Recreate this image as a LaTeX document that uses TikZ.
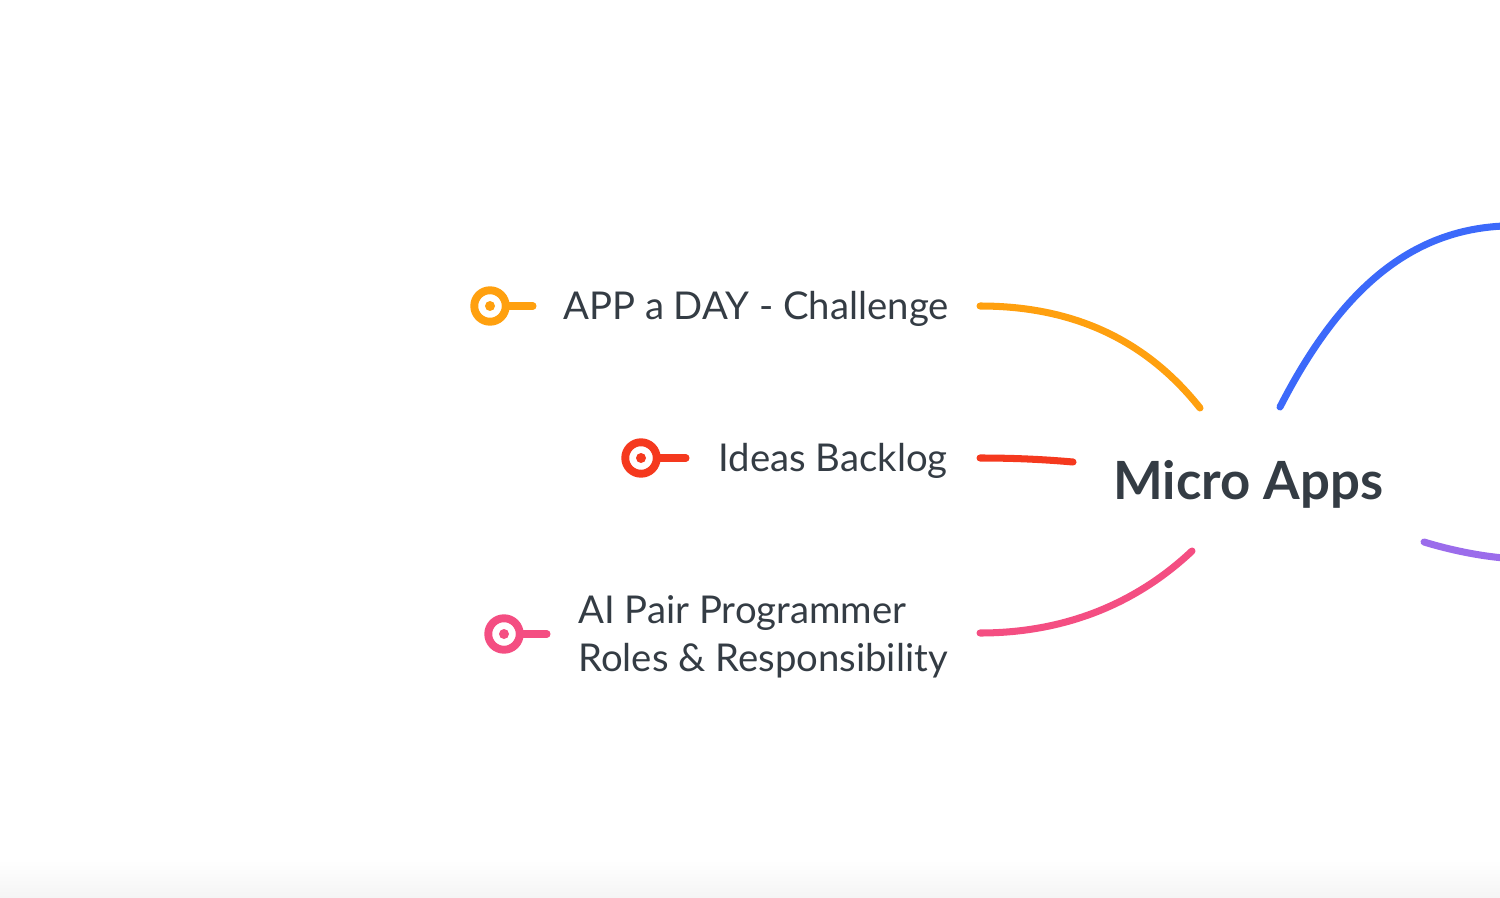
\documentclass[tikz,border=0pt]{standalone}
\usepackage{fontspec}
\setmainfont{Lato}
\usetikzlibrary{positioning}
\definecolor{ink}{HTML}{343C44}
\definecolor{cOrange}{HTML}{FFA00F}
\definecolor{cRed}{HTML}{F5391E}
\definecolor{cPink}{HTML}{F44E82}
\definecolor{cBlue}{HTML}{3C69FA}
\definecolor{cPurple}{HTML}{9B6CEB}

\begin{document}
\begin{tikzpicture}[x=0.02cm, y=-0.02cm,
    ring/.style={circle, draw=#1, line width=4.5pt, minimum size=0.63cm, inner sep=0pt},
    branch/.style={line width=4pt, line cap=round, #1},
    label/.style={text=ink, font=\fontsize{21.8}{27}\selectfont, inner sep=0pt}]
    \useasboundingbox (0,0) rectangle (1500,898);
    \clip (0,0) rectangle (1500,898);
    % Fondo con sombra abajo
    \shade[top color=white, bottom color=black!4] (0,860) rectangle (1500,898);
    % Nodo central
    \node[text=ink, font=\fontsize{30}{36}\selectfont\bfseries, anchor=west, inner sep=0pt] (micro) at (1113,484) {Micro Apps};
    % Marcadores
    \node[ring=cOrange] (appdot) at (490,306) {};
    \node[ring=cRed] (ideadot) at (641,458) {};
    \node[ring=cPink] (pairdot) at (504,634) {};
    \fill[cOrange] (appdot) circle (5);
    \fill[cRed] (ideadot) circle (5);
    \fill[cPink] (pairdot) circle (5);
    \coordinate (appstem) at (533,306);
    \coordinate (ideastem) at (686,458);
    \coordinate (pairstem) at (547,634);
    \draw[branch=cOrange] (appdot.east) -- (appstem);
    \draw[branch=cRed] (ideadot.east) -- (ideastem);
    \draw[branch=cPink] (pairdot.east) -- (pairstem);
    % Etiquetas
    \node[label, anchor=west] (app) at (563,309) {APP a DAY - Challenge};
    \node[label, anchor=east] (idea) at (948,461) {Ideas Backlog};
    \node[label, anchor=west, align=left] (pair) at (578,637) {AI Pair Programmer\\Roles \& Responsibility};
    % Ramas hacia el centro
    \coordinate (append) at (1200,408);
    \coordinate (ideaend) at (1073,462);
    \coordinate (pairend) at (1192,551);
    \coordinate (bluestart) at (1280,407);
    \coordinate (blueend) at (1504,226);
    \coordinate (purplestart) at (1424,542);
    \coordinate (purpleend) at (1504,558);
    \draw[branch=cOrange] (980,306) .. controls (1080,306) and (1150,345) .. (append);
    \draw[branch=cRed] (980,458) .. controls (1020,458) and (1050,460) .. (ideaend);
    \draw[branch=cPink] (980,633) .. controls (1070,633) and (1140,600) .. (pairend);
    \draw[branch=cBlue] (bluestart) .. controls (1340,290) and (1410,230) .. (blueend);
    \draw[branch=cPurple] (purplestart) .. controls (1450,550) and (1480,556) .. (purpleend);
\end{tikzpicture}
\end{document}
